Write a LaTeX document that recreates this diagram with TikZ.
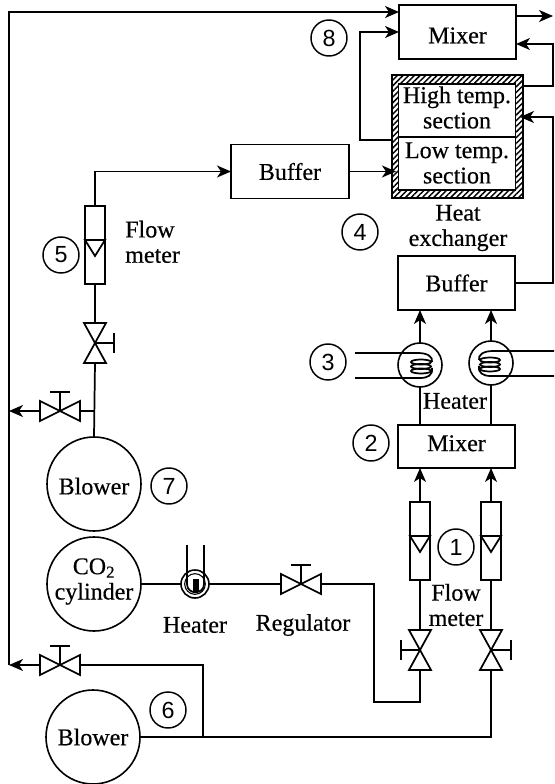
\documentclass[tikz,border=0pt]{standalone}
\usepackage{fontspec}
\setmainfont[RawFeature={embolden=0.4}]{Liberation Serif}
\newfontfamily\tagfont{Liberation Sans}
\usetikzlibrary{arrows.meta,patterns.meta}
\tikzset{
  pipe/.style={line width=1.3pt},
  flow/.style={pipe,-{Stealth[length=10.5pt,width=9pt,inset=3pt]}},
  lbl/.style={font=\fontsize{18}{19}\selectfont,inner sep=0pt,align=center},
  box/.style={lbl,draw,line width=1.3pt,outer sep=0pt,minimum width=#1},
  box/.default=87.75pt,
  blower/.style={lbl,draw,circle,line width=1.2pt,outer sep=0pt,minimum size=70.5pt},
  tag/.style={draw,circle,line width=1.1pt,inner sep=0pt,minimum size=27pt,font=\tagfont\fontsize{17.5}{18}\selectfont},
  wall/.style={draw,line width=1.6pt,outer sep=0pt,pattern={Lines[angle=45,distance=3pt,line width=1.1pt]}},
  vvalve/.pic={
    \draw[pipe] (-11,-20) -- (11,-20) -- (-11,20) -- (11,20) -- cycle;
    \draw[pipe] (0,0) -- (#1,0);
    \draw[line width=1.8pt] (#1,-10) -- (#1,10);
    \coordinate (-top) at (0,-20);
    \coordinate (-bot) at (0,20);
  },
  hvalve/.pic={
    \draw[pipe] (-20,-10) -- (-20,10) -- (20,-10) -- (20,10) -- cycle;
    \draw[pipe] (0,0) -- (0,-19);
    \draw[line width=1.8pt] (-10,-19) -- (10,-19);
    \coordinate (-left) at (-20,0);
    \coordinate (-right) at (20,0);
  },
  meter/.pic={
    \node[draw,line width=1.3pt,outer sep=0pt,minimum width=15.5pt,minimum height=58.5pt] (-box) at (0,0) {};
    \draw[pipe] (-10,-5) -- (10,-5) -- (0,11) -- cycle;
  },
  coil/.pic={
    \node[draw,circle,line width=1.2pt,outer sep=0pt,minimum size=33pt] (-ring) at (0,0) {};
    \draw[pipe] (-#1,-12) -- (-2,-12) .. controls (8,-12) and (13,-8) .. (12,-3);
    \draw[pipe] (-#1,13) -- (0,13) .. controls (8,13) and (13,10) .. (12,3);
    \draw[line width=1.3pt] (1,-3) ellipse [x radius=10,y radius=2.5];
    \draw[line width=1.3pt] (1,1.5) ellipse [x radius=10,y radius=2.5];
    \draw[line width=1.3pt] (1,6) ellipse [x radius=10,y radius=2.5];
  }
}
\begin{document}
\begin{tikzpicture}[x=0.75pt,y=-0.75pt]
    \useasboundingbox (0,0) rectangle (554,784);

    %boxes
    \node[box,minimum height=40.5pt] (mixtop) at (457.5,32) {\raisebox{-2.5pt}[\height][0pt]{Mixer}};
    \node[box=88.5pt,minimum height=40.5pt] (bufleft) at (290,171.5) {Buffer};
    \node[box,minimum height=40.5pt] (bufright) at (456.5,283) {Buffer};
    \node[box,minimum height=32.25pt] (mixlow) at (456.5,446.5) {\raisebox{2.5pt}[\height][0pt]{Mixer}};

    %heat exchanger
    \node[wall,minimum width=98.25pt,minimum height=92.25pt] (hx) at (457.5,136.5) {};
    \node[box,fill=white,minimum height=39.75pt] (hxhigh) at (457,110.5) {};
    \node[box,fill=white,minimum height=39.75pt] (hxlow) at (457,163.5) {};
    \node[lbl] (hxhightext) at (457,107.5) {High temp.\\section};
    \node[lbl] (hxlowtext) at (457,163) {Low temp.\\section};
    \node[lbl] (hxtext) at (458,228) {Heat\\exchanger};

    %blowers and cylinder
    \node[blower] (blowertop) at (94,484) {\raisebox{-1.5pt}[\height][0pt]{Blower}};
    \node[blower] (blowerlow) at (93,737) {Blower};
    \node[blower] (cylinder) at (94,584) {};
    \node[lbl] (cylindertext) at (94,581.5) {CO\textsubscript{2}\\cylinder};

    %flow meters
    \pic (fmleft) at (95,245) {meter};
    \pic (fmone) at (420,541) {meter};
    \pic (fmtwo) at (491,541) {meter};

    %valves
    \pic (vtop) at (95,343) {vvalve=19};
    \pic (vone) at (420,650) {vvalve=-19};
    \pic (vtwo) at (491,650) {vvalve=20};
    \pic (vblower) at (60,411) {hvalve};
    \pic (vlow) at (60,665) {hvalve};
    \pic (vreg) at (301,584) {hvalve};

    %heaters
    \pic (hone) at (420,365) {coil=65};
    \pic[xscale=-1] (htwo) at (491,363) {coil=63};
    \node[draw,circle,line width=1.2pt,outer sep=0pt,minimum size=21pt] (hsmall) at (195,584) {};
    \node[draw,circle,line width=0.8pt,minimum size=15.5pt] (hinner) at (195,584) {};
    \coordinate (utubea) at (187,545);
    \coordinate (utubeb) at (204,545);
    \draw[pipe] (utubea) -- (187,584) .. controls (187,595) and (204,595) .. (204,584) -- (utubeb);
    \fill (193,579) rectangle (199,592);

    %free ends and bends
    \coordinate (trunktop) at (9,12);
    \coordinate (trunkbot) at (9,665);
    \coordinate (topin) at (399,12);
    \coordinate (mixout) at (516,16);
    \coordinate (exit) at (553,16);
    \coordinate (hotout) at (523,86);
    \coordinate (railup) at (553,44);
    \coordinate (mixback) at (516,44);
    \coordinate (coldout) at (392,140);
    \coordinate (railleft) at (360,32);
    \coordinate (mixin) at (399,32);
    \coordinate (railhot) at (553,117);
    \coordinate (hotin) at (520,117);
    \coordinate (coldin) at (396,171.5);
    \coordinate (bendtop) at (95,171.5);
    \coordinate (teetop) at (95,411);
    \coordinate (regbend) at (374,584);
    \coordinate (fmbend) at (420,702);
    \coordinate (teelow) at (203,737);
    \coordinate (bendtwo) at (491,737);
    \coordinate (branch) at (203,665);

    %pipes round the top
    \draw[flow] (trunkbot) -- (trunktop) -- (topin);
    \draw[flow] (mixout) -- (exit);
    \draw[flow] (hotout) -| (railup) -- (mixback);
    \draw[flow] (coldout) -| (railleft) -- (mixin);
    \draw[flow] (bufright.east) -| (railhot) -- (hotin);
    \draw[flow] (bufleft.east) -- (coldin);

    %left line
    \draw[flow] (fmleft-box.north) |- (bendtop) -- (bufleft.west);
    \draw[pipe] (vtop-top) -- (fmleft-box.south);
    \draw[pipe] (blowertop.north) -- (vtop-bot);
    \draw[pipe] (teetop) -- (vblower-right);
    \draw[flow] (vblower-left) -- (vblower-left -| trunktop);

    %right lines
    \draw[flow] (hone-ring.north) -- (hone-ring.north |- bufright.south);
    \draw[flow] (htwo-ring.north) -- (htwo-ring.north |- bufright.south);
    \draw[pipe] (mixlow.north -| hone-ring) -- (hone-ring.south);
    \draw[pipe] (mixlow.north -| htwo-ring) -- (htwo-ring.south);
    \draw[flow] (fmone-box.north) -- (fmone-box.north |- mixlow.south);
    \draw[flow] (fmtwo-box.north) -- (fmtwo-box.north |- mixlow.south);
    \draw[pipe] (vone-top) -- (fmone-box.south);
    \draw[pipe] (vtwo-top) -- (fmtwo-box.south);

    %CO2 line
    \draw[pipe] (cylinder.east) -- (hsmall.west);
    \draw[pipe] (hsmall.east) -- (vreg-left);
    \draw[pipe] (vreg-right) -- (regbend) |- (fmbend) -- (vone-bot);

    %low blower
    \draw[pipe] (blowerlow.east) -- (bendtwo) -- (vtwo-bot);
    \draw[pipe] (teelow) -- (branch) -- (vlow-right);
    \draw[flow] (vlow-left) -- (trunkbot);

    %labels
    \node[lbl,anchor=west] (fmlefttext) at (125,245) {\begin{tabular}{@{}l@{}}Flow\\meter\end{tabular}};
    \node[lbl] (fmrighttext) at (456,605) {Flow\\meter};
    \node[lbl] (hrighttext) at (455,401) {Heater};
    \node[lbl] (hsmalltext) at (195,625) {Heater};
    \node[lbl] (regtext) at (303,625) {Regulator};

    %numbers
    \node[tag] (nsone) at (456,547) {1};
    \node[tag] (nstwo) at (371,443) {2};
    \node[tag] (nsthree) at (328,362) {3};
    \node[tag] (nsfour) at (360,232) {4};
    \node[tag] (nsfive) at (61,255) {5};
    \node[tag] (nssix) at (168,710) {6};
    \node[tag] (nsseven) at (169,486) {7};
    \node[tag] (nseight) at (329,38) {8};
\end{tikzpicture}
\end{document}
